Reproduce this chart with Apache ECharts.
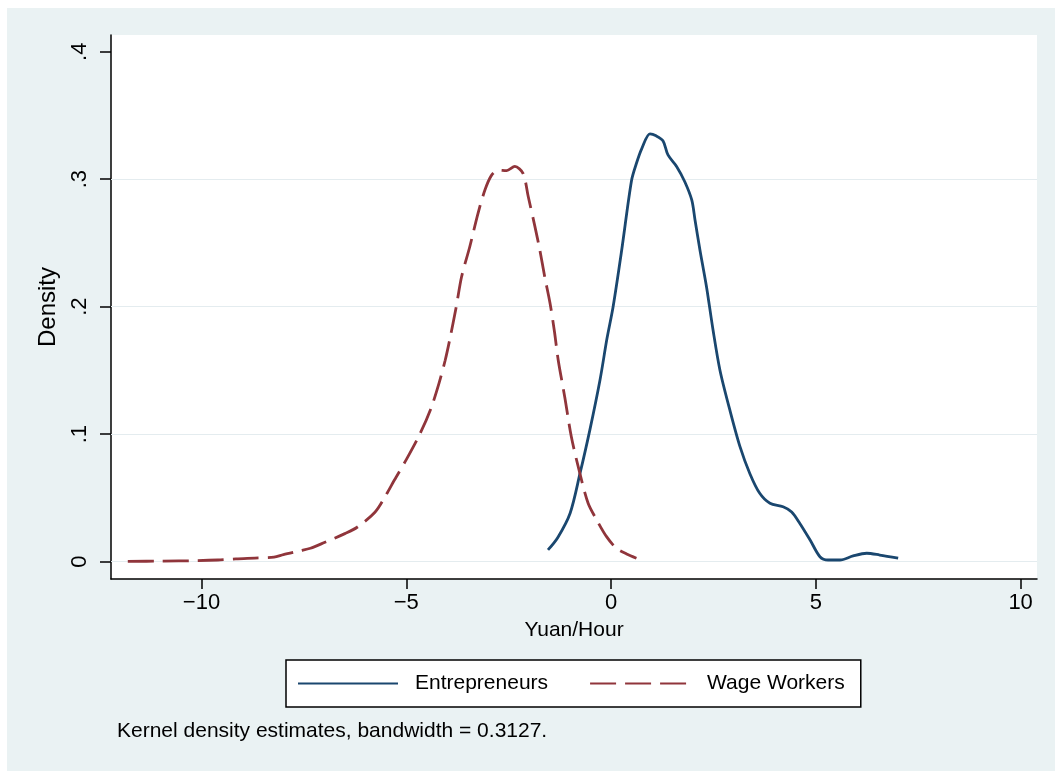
<!DOCTYPE html>
<html>
<head>
<meta charset="utf-8">
<script src="https://cdn.jsdelivr.net/npm/echarts@6/dist/echarts.min.js"></script>
<style>
html,body{margin:0;padding:0;background:#fff;}
#chart{width:1055px;height:771px;}
</style>
</head>
<body>
<div id="chart"></div>
<script>
// ---- data ----
const entrepreneursX = [-1.54, -1.3, -1.0, -0.76, -0.52, -0.27, -0.1, 0.05, 0.26, 0.5, 0.62, 0.75, 0.95, 1.1, 1.27, 1.39, 1.6, 1.8, 1.97, 2.05, 2.17, 2.33, 2.49, 2.66, 2.9, 3.15, 3.39, 3.63, 3.88, 4.2, 4.41, 4.61, 4.86, 5.1, 5.3, 5.59, 5.91, 6.24, 6.56, 7.01];
const entrepreneursY = [0.0092, 0.019, 0.038, 0.069, 0.103, 0.1425, 0.175, 0.2, 0.2445, 0.299, 0.3125, 0.324, 0.3355, 0.334, 0.33, 0.319, 0.31, 0.298, 0.2837, 0.268, 0.2445, 0.2157, 0.1817, 0.15, 0.119, 0.09, 0.069, 0.0536, 0.0458, 0.0431, 0.039, 0.03, 0.017, 0.0039, 0.0013, 0.0013, 0.0045, 0.0066, 0.0052, 0.0027];
const wageX = [-11.8, -11.0, -10.1, -9.6, -9.16, -8.7, -8.23, -8.0, -7.6, -7.34, -7.0, -6.5, -6.2, -5.76, -5.5, -5.29, -5.0, -4.67, -4.4, -4.2, -4.05, -3.94, -3.78, -3.65, -3.45, -3.25, -3.08, -2.92, -2.76, -2.55, -2.35, -2.15, -2.02, -1.86, -1.74, -1.62, -1.49, -1.38, -1.29, -1.13, -0.97, -0.76, -0.56, -0.35, -0.11, 0.13, 0.38, 0.62];
const wageY = [0.0003, 0.0004, 0.0008, 0.0013, 0.0022, 0.0028, 0.0035, 0.0055, 0.0085, 0.0105, 0.015, 0.022, 0.027, 0.039, 0.052, 0.064, 0.08, 0.1, 0.12, 0.14, 0.158, 0.174, 0.2, 0.2235, 0.247, 0.273, 0.2915, 0.303, 0.307, 0.3067, 0.31, 0.3046, 0.286, 0.263, 0.2445, 0.2235, 0.2027, 0.18, 0.158, 0.129, 0.098, 0.069, 0.0458, 0.0327, 0.0196, 0.0105, 0.006, 0.0027];
const xTicks = [-10, -5, 0, 5, 10];
const yTicks = [0, 0.1, 0.2, 0.3, 0.4];
const gridValues = [0, 0.1, 0.2, 0.3];
const seriesNames = ['Entrepreneurs', 'Wage Workers'];
const xTitle = 'Yuan/Hour';
const yTitle = 'Density';
const noteText = 'Kernel density estimates, bandwidth = 0.3127.';

const zip = (xs, ys) => xs.map((x, i) => [x, ys[i]]);
const FONT = 'Liberation Sans, Arial, sans-serif';

const chart = echarts.init(document.getElementById('chart'));
chart.setOption({
  backgroundColor: '#ffffff',
  animation: false,
  graphic: [{
    type: 'rect', z: -10, silent: true,
    shape: { x: 7, y: 8, width: 1048, height: 763 },
    style: { fill: '#eaf2f3' }
  }],
  title: {
    text: noteText,
    left: 117, top: 721,
    padding: 0,
    textStyle: { fontFamily: FONT, fontSize: 21, fontWeight: 'normal', color: '#000' }
  },
  legend: {
    data: seriesNames,
    left: 286, top: 660,
    padding: [13, 16, 13, 11],
    backgroundColor: '#ffffff',
    borderColor: '#000000',
    borderWidth: 1.5,
    borderRadius: 0,
    itemWidth: 100,
    itemHeight: 22,
    itemGap: 41,
    itemStyle: { opacity: 0, borderWidth: 0 },
    textStyle: { fontFamily: FONT, fontSize: 21, color: '#000', padding: [0, 0, 0, 12] }
  },
  grid: {
    left: 111, right: 18, top: 35, bottom: 192,
    show: true, backgroundColor: '#ffffff', borderWidth: 0
  },
  xAxis: {
    type: 'value',
    min: -12.21, max: 10.40,
    name: xTitle, nameLocation: 'middle', nameGap: 41,
    nameTextStyle: { fontFamily: FONT, fontSize: 21, color: '#000' },
    axisLine: { onZero: false, lineStyle: { color: '#000', width: 1.5 } },
    axisTick: { show: true, inside: false, length: 10, customValues: xTicks, lineStyle: { color: '#000', width: 1.5 } },
    axisLabel: {
      customValues: xTicks, margin: 13,
      fontFamily: FONT, fontSize: 22, color: '#000',
      formatter: v => (v < 0 ? '\u2212' + Math.abs(v) : String(v))
    },
    splitLine: { show: false }
  },
  yAxis: {
    type: 'value',
    min: -0.0136, max: 0.4131,
    name: yTitle, nameLocation: 'middle', nameGap: 51,
    nameTextStyle: { fontFamily: FONT, fontSize: 24, color: '#000' },
    axisLine: { onZero: false, lineStyle: { color: '#000', width: 1.5 } },
    axisTick: { show: true, inside: false, length: 11, customValues: yTicks, lineStyle: { color: '#000', width: 1.5 } },
    axisLabel: {
      customValues: yTicks, margin: 20, rotate: 90,
      fontFamily: FONT, fontSize: 22, color: '#000',
      formatter: v => (v === 0 ? '0' : String(Math.round(v * 10) / 10).replace(/^0/, ''))
    },
    splitLine: { show: false }
  },
  series: [
    {
      name: seriesNames[0], type: 'line',
      data: zip(entrepreneursX, entrepreneursY),
      symbol: 'none', smooth: 0.3, z: 3,
      lineStyle: { color: '#1a476f', width: 2.8 },
      itemStyle: { color: '#1a476f' },
      markLine: {
        silent: true, symbol: 'none', z: 1,
        label: { show: false },
        lineStyle: { color: '#e4ecef', width: 1.2, type: 'solid' },
        emphasis: { disabled: true },
        data: gridValues.map(v => ({ yAxis: v }))
      }
    },
    {
      name: seriesNames[1], type: 'line',
      data: zip(wageX, wageY),
      symbol: 'none', smooth: 0.3, z: 3,
      lineStyle: { color: '#90353b', width: 2.8, type: [26, 9] },
      itemStyle: { color: '#90353b' }
    }
  ]
});
</script>
</body>
</html>
